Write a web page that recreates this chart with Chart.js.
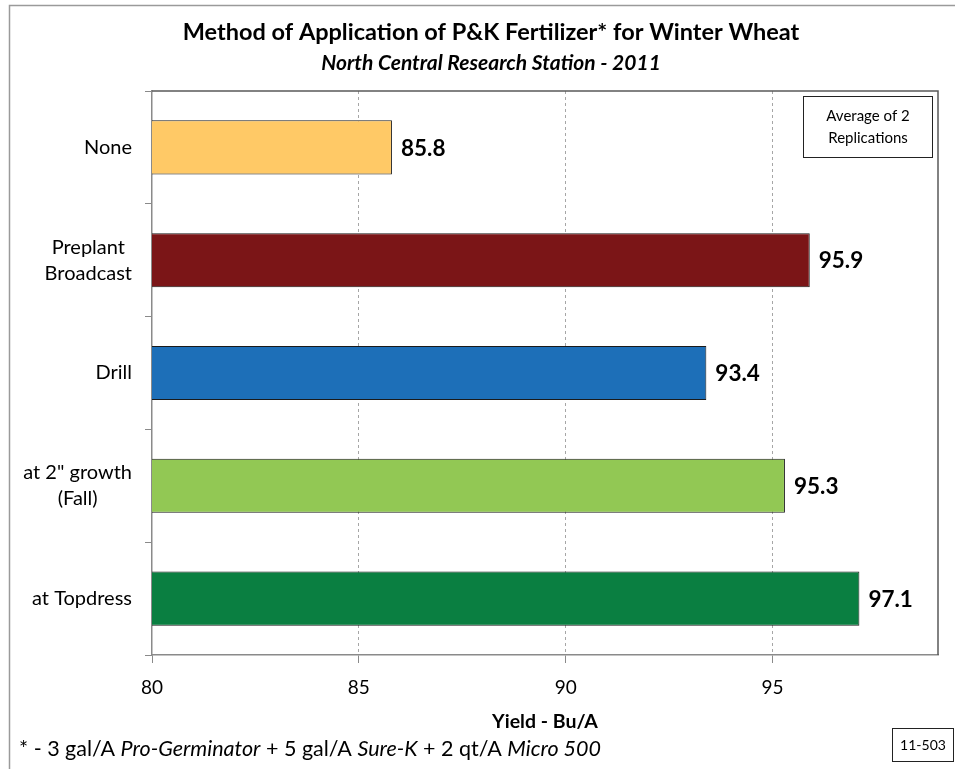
<!DOCTYPE html>
<html><head><meta charset="utf-8">
<script src="https://cdn.jsdelivr.net/npm/chart.js@4.4.1/dist/chart.umd.min.js"></script>
<style>html,body{margin:0;padding:0;background:#fff}#wrap{position:relative;width:955px;height:769px}</style>
</head><body><div id="wrap"><canvas id="c" width="955" height="769"></canvas></div>
<script>
const categories = [["None"], ["Preplant", "Broadcast"], ["Drill"], ['at 2" growth', "(Fall)"], ["at Topdress"]];
const yields = [85.8, 95.9, 93.4, 95.3, 97.1];
const barColors = ["#FFC966", "#7B1517", "#1D6FB8", "#92C854", "#0A7F41"];
const xTicks = [80, 85, 90, 95];
const xMin = 80, xMax = 99;
const titleText = "Method of Application of P&K Fertilizer* for Winter Wheat";
const subtitleText = "North Central Research Station - 2011";
const xAxisTitle = "Yield - Bu/A";
const noteLines = ["Average of 2", "Replications"];
const footnoteParts = [["* - 3 gal/A ", false], ["Pro-Germinator", true], [" + 5 gal/A ", false], ["Sure-K", true], [" + 2 qt/A ", false], ["Micro 500", true]];
const figureId = "11-503";

const FONT = "Lato, 'Open Sans', sans-serif";

const decor = {
  id: 'decor',
  beforeDraw(chart) {
    const ctx = chart.ctx;
    ctx.save();
    ctx.fillStyle = '#fff';
    ctx.fillRect(0, 0, chart.width, chart.height);
    ctx.strokeStyle = '#9a9a9a';
    ctx.lineWidth = 1.5;
    ctx.beginPath();
    ctx.moveTo(9.5, chart.height); ctx.lineTo(9.5, 5.5); ctx.lineTo(chart.width, 5.5);
    ctx.stroke();
    ctx.restore();
  },
  afterDatasetsDraw(chart) {
    const ctx = chart.ctx;
    const meta = chart.getDatasetMeta(0);
    ctx.save();
    ctx.fillStyle = '#000';
    ctx.font = "bold 22.5px " + FONT;
    ctx.textAlign = 'left';
    ctx.textBaseline = 'middle';
    meta.data.forEach((bar, i) => {
      ctx.fillText(yields[i].toFixed(1), bar.x + 9, bar.y + 1);
    });
    ctx.restore();
  },
  afterDraw(chart) {
    const ctx = chart.ctx;
    const a = chart.chartArea;
    ctx.save();
    ctx.strokeStyle = '#5a5a5a';
    ctx.lineWidth = 1.5;
    ctx.beginPath();
    ctx.moveTo(a.left, a.top); ctx.lineTo(a.right, a.top); ctx.lineTo(a.right, a.bottom);
    ctx.stroke();
    ctx.fillStyle = '#000';
    ctx.textAlign = 'center';
    ctx.textBaseline = 'middle';
    ctx.font = "bold 23.5px " + FONT;
    ctx.fillText(titleText, 491, 32);
    ctx.font = "italic bold 21px " + FONT;
    ctx.fillText(subtitleText, 491, 63);
    const ys = chart.scales.y;
    ctx.font = "20px " + FONT;
    categories.forEach((lines, i) => {
      const cy = ys.getPixelForValue(i);
      const widths = lines.map(l => ctx.measureText(l).width);
      const w = Math.max(...widths);
      const cx = 132 - w / 2;
      const lh = 26;
      lines.forEach((l, j) => {
        ctx.fillText(l, cx, cy + (j - (lines.length - 1) / 2) * lh);
      });
    });
    ctx.strokeStyle = '#222';
    ctx.lineWidth = 1;
    ctx.strokeRect(803.5, 96.5, 129, 61);
    ctx.font = "15px " + FONT;
    ctx.fillText(noteLines[0], 868, 116);
    ctx.fillText(noteLines[1], 868, 138);
    ctx.strokeRect(892.5, 728.5, 61, 33);
    ctx.font = "14px " + FONT;
    ctx.fillText(figureId, 923, 745);
    ctx.textAlign = 'left';
    let x = 19;
    footnoteParts.forEach(([t, it]) => {
      ctx.font = (it ? "italic " : "") + "21.5px " + FONT;
      ctx.fillText(t, x, 749);
      x += ctx.measureText(t).width;
    });
    ctx.restore();
  }
};

new Chart(document.getElementById('c'), {
  type: 'bar',
  data: {
    labels: categories,
    datasets: [{
      data: yields,
      backgroundColor: barColors,
      borderColor: '#1a1a1a',
      borderWidth: 1,
      borderSkipped: false,
      barPercentage: 0.48,
      categoryPercentage: 1
    }]
  },
  options: {
    indexAxis: 'y',
    responsive: false,
    animation: false,
    devicePixelRatio: 1,
    layout: { padding: { top: 91, right: 17, left: 0, bottom: 0 } },
    plugins: { legend: { display: false }, tooltip: { enabled: false }, title: { display: false } },
    scales: {
      x: {
        type: 'linear', min: xMin, max: xMax,
        afterBuildTicks: s => { s.ticks = xTicks.map(v => ({ value: v })); },
        afterFit: s => { s.height = 114; },
        ticks: { color: '#000', font: { family: FONT, size: 19 }, padding: 13 },
        grid: {
          color: c => (c.tick && c.tick.value === xMin) ? 'rgba(0,0,0,0)' : '#a6a6a6',
          lineWidth: 1, tickLength: 8, tickColor: '#8a8a8a', tickBorderDash: []
        },
        border: { color: '#8a8a8a', width: 1.5, dash: [3, 3] },
        title: { display: true, text: xAxisTitle, color: '#000', font: { family: FONT, size: 19.5, weight: 'bold' }, padding: { top: 0, bottom: 36 } }
      },
      y: {
        type: 'category',
        afterFit: s => { s.width = 152; },
        ticks: { display: false },
        grid: { drawOnChartArea: false, drawTicks: true, tickLength: 7, tickColor: '#8a8a8a', offset: true },
        border: { color: '#8a8a8a', width: 1.5 }
      }
    }
  },
  plugins: [decor]
});
</script>
</body></html>
